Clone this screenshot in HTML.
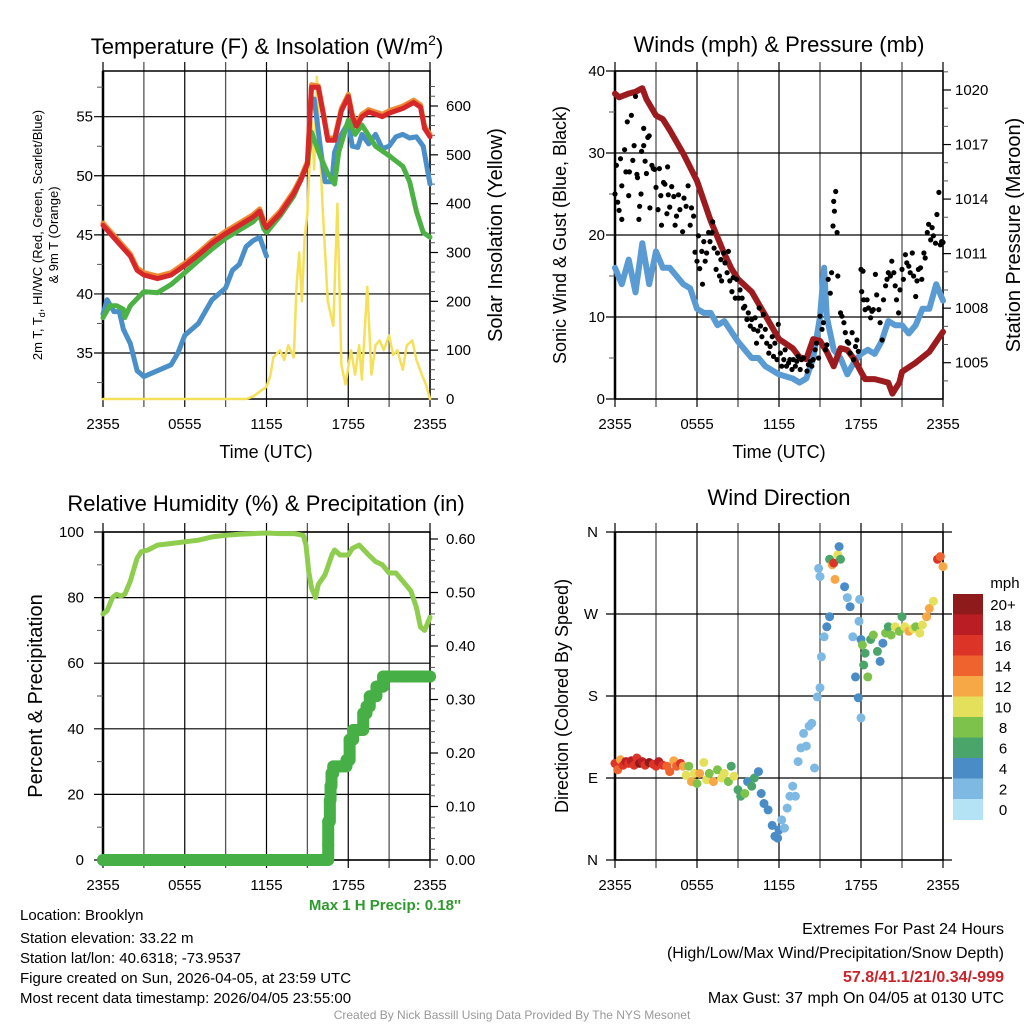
<!DOCTYPE html>
<html><head><meta charset="utf-8">
<style>
html,body{margin:0;padding:0;background:#fff;}
svg{display:block;font-family:"Liberation Sans",Arial,sans-serif;}
</style></head>
<body>
<svg id="fig" width="1024" height="1024" viewBox="0 0 1024 1024" xmlns="http://www.w3.org/2000/svg">
<rect x="0" y="0" width="1024" height="1024" fill="#fff"/>
<text x="267" y="54" font-size="22" text-anchor="middle">Temperature (F) &amp; Insolation (W/m<tspan dy="-9" font-size="14">2</tspan><tspan dy="9">)</tspan></text>
<text x="779" y="52" font-size="22" text-anchor="middle">Winds (mph) &amp; Pressure (mb)</text>
<text x="266" y="511" font-size="22" text-anchor="middle">Relative Humidity (%) &amp; Precipitation (in)</text>
<text x="779" y="505" font-size="22" text-anchor="middle">Wind Direction</text>

<text x="266" y="458" font-size="18" text-anchor="middle">Time (UTC)</text>
<text x="779" y="458" font-size="18" text-anchor="middle">Time (UTC)</text>

<g transform="translate(42,235) rotate(-90)">
<text x="0" y="0" font-size="13" text-anchor="middle">2m T, T<tspan dy="3" font-size="9">d</tspan><tspan dy="-3">, HI/WC (Red, Green, Scarlet/Blue)</tspan></text>
<text x="0" y="16" font-size="13" text-anchor="middle">&amp; 9m T (Orange)</text>
</g>
<text transform="translate(502,235) rotate(-90)" font-size="20" text-anchor="middle">Solar Insolation (Yellow)</text>
<text transform="translate(566,235) rotate(-90)" font-size="18" text-anchor="middle">Sonic Wind &amp; Gust (Blue, Black)</text>
<text transform="translate(1020,235) rotate(-90)" font-size="20" text-anchor="middle">Station Pressure (Maroon)</text>
<text transform="translate(42,696) rotate(-90)" font-size="20" text-anchor="middle">Percent &amp; Precipitation</text>
<text transform="translate(568,696) rotate(-90)" font-size="18" text-anchor="middle">Direction (Colored By Speed)</text>

<text x="385" y="910" font-size="15" font-weight="bold" fill="#2e9a2e" text-anchor="middle">Max 1 H Precip: 0.18''</text>
<g font-size="15" fill="#000">
<text x="20" y="920">Location: Brooklyn</text>
<text x="20" y="943">Station elevation: 33.22 m</text>
<text x="20" y="963">Station lat/lon: 40.6318; -73.9537</text>
<text x="20" y="983">Figure created on Sun, 2026-04-05, at 23:59 UTC</text>
<text x="20" y="1003">Most recent data timestamp: 2026/04/05 23:55:00</text>
</g>
<g font-size="16" text-anchor="end">
<text x="1004" y="934">Extremes For Past 24 Hours</text>
<text x="1004" y="958">(High/Low/Max Wind/Precipitation/Snow Depth)</text>
<text x="1004" y="982" font-weight="bold" fill="#cc2229">57.8/41.1/21/0.34/-999</text>
<text x="1004" y="1003">Max Gust: 37 mph On 04/05 at 0130 UTC</text>
</g>
<text x="512" y="1019" font-size="12" fill="#999" text-anchor="middle">Created By Nick Bassill Using Data Provided By The NYS Mesonet</text>
<g id="charts"></g>
</svg>
<script>
// ===== Data =====
const xTickLabels = ["2355","0555","1155","1755","2355"];
const tempTicks = [35,40,45,50,55];
const solarTicks = [0,100,200,300,400,500,600];
const windTicks = [0,10,20,30,40];
const presTicks = [1005,1008,1011,1014,1017,1020];
const rhTicks = [0,20,40,60,80,100];
const precipTicks = ["0.00","0.10","0.20","0.30","0.40","0.50","0.60"];
const dirTicks = ["N","E","S","W","N"];
const speedBins = ["0","2","4","6","8","10","12","14","16","18","20+"];

const tHours = [0,1,2,2.5,3,4,5,6,7,8,9,10,11,11.5,11.8,12,13,14,14.5,15,15.3,15.8,16.2,16.5,17,17.5,18,18.3,18.6,19,19.5,20,20.5,21,22,22.8,23.3,23.6,24];
const tempRed = [45.8,44.5,43.2,42,41.6,41.3,41.6,42.4,43.3,44.3,45.1,45.8,46.5,47,46,45.6,46.8,48.5,49.6,51,57.5,57.5,55,53,53,55.5,56.7,55,54.2,55,55.4,55.2,55,55.3,55.7,56.2,55.8,54,53.3];
const tempOrange = [46.0,44.7,43.4,42.2,41.8,41.5,41.8,42.6,43.5,44.5,45.3,46.0,46.7,47.2,46.2,45.8,47.0,48.7,49.8,51.2,57.7,57.6,55.2,53.2,53.2,55.7,56.9,55.2,54.4,55.2,55.6,55.4,55.2,55.5,55.9,56.4,56.0,54.2,53.5];
const gHours = [0,0.5,1,1.5,1.6,2,3,4,5,6,7,8,9,10,11,11.5,11.8,12,13,14,15,15.3,16,16.5,17,17.3,18,18.5,19,20,21,22,22.5,23,23.5,24];
const tempGreen = [38,39,39,38.7,38,39,40.2,40.1,40.8,41.8,42.8,43.8,44.7,45.4,46.1,46.7,45.5,45.2,46.6,48.3,51,53.7,51.5,50.2,49.3,52,54.7,53.5,54.3,52.5,51.7,50.8,49.5,47,45.2,44.8];
const bHours1 = [0,0.3,0.8,1.2,1.5,2,2.5,3,4,5,5.5,6,7,8,9,9.5,10,10.5,11,11.5,12];
const dewBlue1 = [38.3,39.5,38.5,38.5,37,35.8,33.5,33,33.5,34,35,36.5,37.5,39.5,40.5,42,42.5,44,44.5,44.8,43.2];
const bHours2 = [15.5,16,16.3,16.8,17,17.5,18,18.3,18.7,19,19.5,20,20.5,21,21.5,22,22.5,23,23.5,24];
const dewBlue2 = [56.5,52,49.5,49.5,52,53.5,54.5,52.5,52.4,53.5,52.7,53.5,52.3,52.5,53.3,53.5,53.2,53.3,52.5,49.3];
const sHours = [0,10.5,11,11.5,12,12.3,12.5,13,13.3,13.6,14,14.2,14.4,14.6,14.8,15,15.3,15.5,15.7,16.1,16.5,16.9,17.2,17.5,17.8,18.2,18.5,18.8,19,19.4,19.7,20,20.3,20.6,21,21.3,21.6,22,22.3,22.7,23,23.4,23.7,24];
const solarVals = [0,0,5,15,25,50,85,100,80,110,85,230,300,200,330,380,570,470,660,400,200,150,400,70,30,100,50,110,40,230,50,110,120,100,130,90,100,60,110,120,80,50,30,0];

const pHours = [0,0.3,1,1.5,2,2.3,3,3.5,4,5,6,7,8,8.5,9,10,11,12,13,13.5,14,14.5,15,15.5,16,16.5,17,17.5,18,18.3,19,19.5,20,20.3,20.8,21,22,23,24];
const presVals = [1019.8,1019.6,1019.8,1019.9,1020.1,1019.5,1018.6,1018.4,1017.8,1016.5,1015,1012.8,1011,1010.2,1009.6,1008.9,1007.6,1006.3,1005.8,1005.3,1005.2,1006.3,1006.2,1005.6,1004.8,1005.8,1005.7,1005.2,1004.5,1004.1,1004.1,1004,1003.9,1003.3,1003.9,1004.5,1005,1005.6,1006.7];
const wHours = [0,0.5,1,1.5,2,2.5,3,3.5,4,5,5.5,6,6.5,7,7.5,8,9,9.5,10,10.5,11,12,13,13.5,14,14.5,15,15.3,15.5,16,16.5,17,17.5,18,18.5,19,19.5,20,20.5,21,21.5,22,22.5,23,23.5,24];
const windVals = [16,14,17,13,19,14,18,16,16,14,13.5,11,10.5,10.5,9,9.5,7,6,5,5,4,3,2.5,2,2.5,5,10,16,10,6,5,3,4.5,5.5,6,5.5,7,9.5,9,9,8,9,11,11,14,12];
const gustHours = [0,0.1,0.2,0.3,0.4,0.5,0.5,0.7,0.8,0.9,1.0,1.05,1.2,1.3,1.4,1.5,1.6,1.65,1.75,1.8,1.9,1.95,2.1,2.1,2.2,2.3,2.4,2.5,2.55,2.7,2.8,2.9,3.0,3.15,3.25,3.35,3.4,3.55,3.65,3.8,3.85,3.9,4.0,4.15,4.3,4.4,4.5,4.65,4.75,4.95,5.05,5.2,5.35,5.5,5.6,5.75,5.85,6.0,6.1,6.2,6.35,6.4,6.5,6.6,6.7,6.85,6.95,7.1,7.15,7.25,7.4,7.5,7.65,7.75,7.8,7.95,8.05,8.2,8.3,8.4,8.55,8.65,8.8,8.9,9.05,9.15,9.3,9.4,9.5,9.65,9.75,9.9,10.0,10.15,10.25,10.35,10.45,10.55,10.65,10.75,10.85,11.0,11.1,11.25,11.35,11.5,11.6,11.7,11.85,11.95,12.1,12.2,12.35,12.45,12.55,12.7,12.8,12.95,13.05,13.2,13.3,13.4,13.55,13.65,13.8,14.05,14.15,14.3,14.4,14.5,14.65,14.75,14.9,15.0,15.15,15.25,15.4,15.5,15.6,15.75,15.85,15.95,16.0,16.05,16.15,16.25,16.3,16.5,16.6,16.75,16.85,17.0,17.1,17.2,17.35,17.45,17.6,17.7,17.8,18.0,18.05,18.15,18.2,18.3,18.45,18.55,18.7,18.8,18.9,19.05,19.15,19.3,19.4,19.55,19.65,19.8,19.9,20.0,20.15,20.25,20.4,20.5,20.6,20.75,20.85,21.0,21.1,21.25,21.35,21.5,21.6,21.75,21.85,22.0,22.1,22.2,22.35,22.45,22.6,22.7,22.85,22.95,23.1,23.2,23.3,23.45,23.55,23.7,23.8,23.9,24];
const gustVals = [25,28.5,24,23,29.3,26,21.9,30.4,27.7,33.8,24.8,27.7,34.6,29.1,30.9,36.9,27.4,27,21.9,23.5,25,30.2,33,30.9,29,27.5,31.9,32.1,23.3,28.5,28.1,28,25.8,23.1,28.1,24.8,21.2,26.4,26.2,22.6,28.3,24.9,23.4,25.9,24.7,21.2,22.3,24.9,23.1,20.4,24.5,23.5,26,21.2,23.3,22.3,17.9,16.8,19.9,15.9,18,14,19.2,16.8,17.8,20.3,19.2,20.3,21.6,18.4,15.8,17.8,15,17,14.4,17.8,16.6,15.4,18,14.4,13.1,14.8,12.3,14.6,12.3,13.3,12.3,11.1,11.3,9.7,10.5,8.9,9.7,8.5,9.9,6.8,8.3,11.1,8.9,7.6,10.3,8.5,6.8,5.6,6.4,7.6,5.2,6.8,4.8,9.1,5.6,4,4.8,6,4,4.4,4.8,3.6,4.8,4,4.6,5.2,3.6,4.8,5,3.4,4.2,4.6,4,4.8,6,6.8,5,10.1,8.5,9.3,6,6.6,14.6,12.9,15.4,21.1,24.1,22.9,25.3,20.3,15,10.5,10.1,9.3,8.1,7,6.8,5.6,8.1,4.8,6.4,7.2,5.8,15.8,13.1,15.6,12.1,10.9,12.1,11.1,9.9,10.7,10.9,15.2,12.7,10.9,9.3,7.2,12.1,13.8,14.6,15.4,15,16.8,15.4,13.8,12.1,10.5,13.3,15.8,14.6,17.6,16.6,16.2,15.4,17.8,15,12.5,14.4,15.8,16,14.6,17.8,17.2,20.3,21.3,19.4,20.9,19.9,19,22.5,25.2,18.8,19.2,19.1];

const rhHours = [0,0.3,0.7,1,1.3,1.6,2,2.5,2.8,3.3,4,5,6,7,8,9,10,11,12,13,14,14.7,14.9,15.1,15.3,15.6,15.8,16.3,16.8,17,17.4,18,18.3,18.8,19.5,20,20.5,21,21.5,22,22.6,23,23.3,23.6,24];
const rhVals = [75,76,80,81,80.5,81,85,92,94,94.5,96,96.5,97,97.5,98.5,99,99.3,99.5,99.7,99.5,99.5,99,96,88,83,80,84,87,93,94.5,93,93,95,96,93,91,90,87.5,87.5,85,82,77,71,70,74];
const precipHours = [0,4,8,12,16,16.53,16.53,16.65,16.7,16.77,16.9,17.4,17.87,18.1,18.36,18.85,19.1,19.34,19.58,20.07,20.56,22,24];
const precipVals = [0,0,0,0,0,0.028,0.072,0.112,0.138,0.162,0.175,0.175,0.187,0.225,0.243,0.243,0.274,0.287,0.306,0.324,0.343,0.343,0.343];

const dirHours = [0,0.2,0.4,0.6,0.8,1.0,1.2,1.4,1.6,1.8,2.0,2.2,2.5,2.8,3.0,3.2,3.5,3.8,4.0,4.3,4.5,4.8,5.0,5.2,5.4,5.6,5.8,6.0,6.2,6.5,6.7,6.9,7.2,7.5,7.8,8.0,8.3,8.5,8.7,9.0,9.2,9.5,9.7,10.0,10.2,10.5,10.7,10.9,11.2,11.5,11.7,11.9,12.0,12.2,12.4,12.6,12.8,13.0,13.2,13.4,13.6,13.8,14.0,14.2,14.4,14.6,14.8,15.0,15.1,15.3,15.5,15.7,14.9,15.0,15.7,15.9,16.0,16.1,16.3,16.5,16.4,16.8,17.0,17.2,17.4,17.6,17.8,18.0,17.85,17.9,18.0,18.1,18.2,18.3,18.5,18.7,18.9,19.2,19.4,19.6,19.8,20.0,20.2,20.5,20.8,21.0,21.2,21.5,21.8,22.0,22.3,22.5,22.8,23.0,23.3,23.6,23.8,24];
const dirVals = [106,99,110,104,108,106,109,104,112,106,108,104,107,105,103,108,104,103,97,109,103,106,103,93,103,86,95,84,95,107,88,95,86,99,90,95,86,103,92,77,70,73,86,81,90,97,73,62,55,38,26,24,33,44,35,57,70,81,70,108,123,139,125,147,150,101,179,189,223,245,256,267,320,311,330,324,326,308,335,330,344,300,288,278,245,201,178,156,262,286,242,236,214,227,201,242,247,229,218,238,249,256,247,256,251,267,256,251,254,256,249,258,267,276,284,330,333,322];
const dirSpeeds = [16,14,12,16,18,16,18,16,16,20,18,16,20,16,16,18,16,14,14,12,14,16,12,10,8,12,10,8,12,10,10,8,12,8,10,10,8,6,10,6,6,8,4,6,6,4,4,4,4,4,4,4,4,2,2,2,2,2,2,2,2,2,2,2,2,2,2,2,2,2,4,4,2,2,6,12,16,12,10,6,4,4,2,4,2,4,4,2,2,2,4,8,6,6,8,6,8,6,4,4,8,6,8,10,8,6,10,12,10,8,10,10,12,12,10,16,14,12];
const speedColors = ["#b5e3f6","#7db9e3","#4a8dc6","#4aa56b","#7dc24b","#e5e05c","#f6a846","#ef642e","#dd3428","#bb1d25","#8e1a1c"];

// ===== Helpers =====
const NS = "http://www.w3.org/2000/svg";
const root = document.getElementById("charts");
function mk(tag, attrs, parent) {
  const el = document.createElementNS(NS, tag);
  for (const k in attrs) el.setAttribute(k, attrs[k]);
  (parent || root).appendChild(el);
  return el;
}
function lin(d0, d1, r0, r1) { return v => r0 + (v - d0) * (r1 - r0) / (d1 - d0); }
function pathFrom(xs, ys, fx, fy) {
  return xs.map((h, i) => (i ? "L" : "M") + fx(h).toFixed(1) + "," + fy(ys[i]).toFixed(1)).join(" ");
}

function frame(name, L, R, T, B) {
  const g = mk("g", {});
  
  
  const fx = lin(0, 24, L, R);
  for (let k = 0; k <= 8; k++) {
    const x = fx(k * 3);
    const ln = mk("line", {x1: x, x2: x, y1: T - 9, y2: B + 8, stroke: k % 2 ? "#555" : "#000", "stroke-width": k % 2 ? 1.3 : 1.2}, g);
    
    
  }
  xTickLabels.forEach((t, k) => {
    const tx = mk("text", {x: fx(k * 6), y: B + 30, "font-size": 15, "text-anchor": "middle"}, g);
    tx.textContent = t;
    
    
  });
  mk("rect", {x: L, y: T, width: R - L, height: B - T, fill: "none", stroke: "#000", "stroke-width": 1.5}, g);
  mk("line", {x1: L, x2: L, y1: T, y2: B, stroke: "#000", "stroke-width": 2.5}, g);
  return {g, fx};
}
function hgrid(g, L, R, y, label, side, lx) {
  const ln = mk("line", {x1: L - 9, x2: R, y1: y, y2: y, stroke: "#000", "stroke-width": 1.2}, g);
  
  
  const tx = mk("text", {x: lx, y: y + 5, "font-size": 15, "text-anchor": "end"}, g);
  tx.textContent = label;
  
  
}
function rightTick(g, R, y, label, lx) {
  mk("line", {x1: R, x2: R + 8, y1: y, y2: y, stroke: "#000", "stroke-width": 1.2}, g);
  const tx = mk("text", {x: lx, y: y + 5, "font-size": 15, "text-anchor": "start"}, g);
  tx.textContent = label;
  
  
}
function minorTicks(g, x0, x1, ys) {
  ys.forEach(y => mk("line", {x1: x0, x2: x1, y1: y, y2: y, stroke: "#555", "stroke-width": 1}, g));
}
function series(name, xs, ys, fx, fy, color, w) {
  const p = mk("path", {d: pathFrom(xs, ys, fx, fy), fill: "none", stroke: color, "stroke-width": w, "stroke-linejoin": "round", "stroke-linecap": "round"});
  
  
  return p;
}

// ===== Panel 1: Temperature =====
{
  const L = 103, R = 430, T = 71, B = 399;
  const {g, fx} = frame("temperature", L, R, T, B);
  const fy = lin(35, 55, 353, 116.7);
  const fs = lin(0, 600, 399, 106);
  tempTicks.forEach(v => hgrid(g, L, R, fy(v), String(v), "l", 93));
  minorTicks(g, L - 6, L, [32.5, 37.5, 42.5, 47.5, 52.5, 57.5].map(fy));
  solarTicks.forEach(v => rightTick(g, R, fs(v), String(v), 446));
  const mins = []; for (let v = 20; v < 660; v += 20) if (v % 100) mins.push(fs(v));
  minorTicks(g, R, R + 5, mins);
  series("solar-insolation-line", sHours, solarVals, fx, fs, "#f5e05a", 2.5);
  series("temperature-9m-orange-line", tHours, tempOrange, fx, fy, "#f08a32", 5);
  series("dewpoint-blue-line-1", bHours1, dewBlue1, fx, fy, "#4b8fc9", 5);
  series("dewpoint-blue-line-2", bHours2, dewBlue2, fx, fy, "#4b8fc9", 5);
  series("heat-index-green-line", gHours, tempGreen, fx, fy, "#4db245", 5);
  series("temperature-red-line", tHours, tempRed, fx, fy, "#d6282a", 5);
}

// ===== Panel 2: Winds =====
{
  const L = 615, R = 943, T = 71, B = 399;
  const {g, fx} = frame("winds", L, R, T, B);
  const fy = lin(0, 40, 399, 71);
  const fp = lin(1005, 1020, 362.7, 90);
  windTicks.forEach(v => hgrid(g, L, R, fy(v), String(v), "l", 605));
  minorTicks(g, L - 6, L, [5, 15, 25, 35].map(fy));
  presTicks.forEach(v => rightTick(g, R, fp(v), String(v), 955));
  const mins = []; for (let v = 1004; v <= 1021; v++) if ((v - 1005) % 3) mins.push(fp(v));
  minorTicks(g, R, R + 5, mins);
  series("wind-speed-blue-line", wHours, windVals, fx, fy, "#5b9bd3", 6);
  series("station-pressure-maroon-line", pHours, presVals, fx, fp, "#9b1b1e", 6);
  const gg = mk("g", {});
  
  
  gustHours.forEach((h, i) => {
    const c = mk("circle", {cx: fx(h).toFixed(1), cy: fy(gustVals[i]).toFixed(1), r: 2.6, fill: "#000"}, gg);
    
    
  });
}

// ===== Panel 3: RH & Precip =====
{
  const L = 103, R = 430, T = 532, B = 860;
  const {g, fx} = frame("humidity", L, R, T, B);
  const fy = lin(0, 100, 860, 532);
  const fp = lin(0, 0.6, 860, 539);
  rhTicks.forEach(v => hgrid(g, L, R, fy(v), String(v), "l", 84));
  minorTicks(g, L - 6, L, [10, 30, 50, 70, 90].map(fy));
  precipTicks.forEach(v => rightTick(g, R, fp(+v), v, 446));
  const mins = []; for (let v = 0.02; v < 0.6; v += 0.02) if (Math.round(v * 100) % 10) mins.push(fp(v));
  minorTicks(g, R, R + 5, mins);
  series("relative-humidity-line", rhHours, rhVals, fx, fy, "#8fcd4f", 5);
  let d = "";
  precipHours.forEach((h, i) => {
    const x = fx(h), y = fp(precipVals[i]);
    if (i === 0) d += "M" + x + "," + y;
    else d += " L" + x + "," + fp(precipVals[i - 1]) + " L" + x + "," + y;
  });
  const pl = mk("path", {d: d, fill: "none", stroke: "#46b046", "stroke-width": 12, "stroke-linecap": "round", "stroke-linejoin": "round"});
  
  
  precipHours.forEach((h, i) => {
    const c = mk("circle", {cx: fx(h), cy: fp(precipVals[i]), r: 6, fill: "#46b046"});
    
    
  });
}

// ===== Panel 4: Wind direction =====
{
  const L = 615, R = 943, T = 532, B = 860;
  const {g, fx} = frame("wind-direction", L, R, T, B);
  const fy = lin(0, 360, 860, 532);
  dirTicks.forEach((t, k) => hgrid(g, L, R + 9, fy(k * 90), t, "l", 598));
  const dg = mk("g", {});
  
  
  dirHours.forEach((h, i) => {
    const idx = Math.min(10, Math.floor(dirSpeeds[i] / 2));
    const c = mk("circle", {cx: fx(h).toFixed(1), cy: fy(dirVals[i]).toFixed(1), r: 4.5, fill: speedColors[idx]}, dg);
    
    
  });
  const cb = mk("g", {});
  
  
  const top = 594, h = 20.5;
  for (let k = 0; k < 11; k++) {
    const ci = 10 - k;
    const r = mk("rect", {x: 953, y: top + k * h, width: 30, height: h + 0.5, fill: speedColors[ci]}, cb);
    
    
  }
  const mph = mk("text", {x: 1005, y: 588, "font-size": 15, "text-anchor": "middle"}, cb);
  mph.textContent = "mph";
  
  
  for (let k = 0; k < 11; k++) {
    const lab = speedBins[10 - k];
    const t = mk("text", {x: 1003, y: top + k * h + 16, "font-size": 15, "text-anchor": "middle"}, cb);
    t.textContent = lab;
    
    
  }
}
</script>
</body></html>
